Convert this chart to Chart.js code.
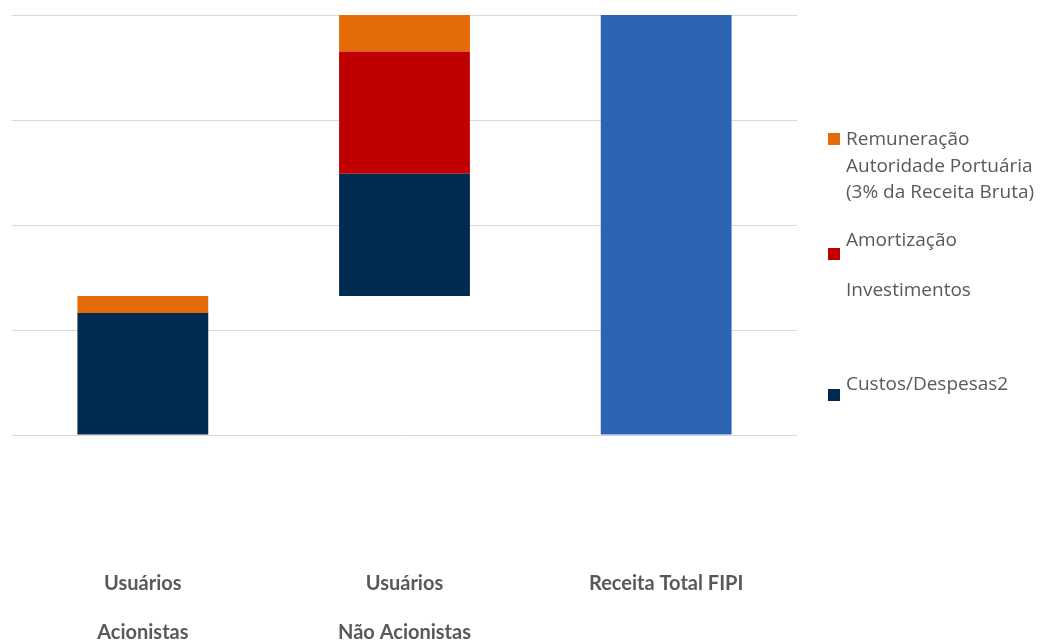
<!DOCTYPE html>
<html>
<head>
<meta charset="utf-8">
<script src="https://cdn.jsdelivr.net/npm/chart.js@4/dist/chart.umd.min.js"></script>
<style>
  html, body { margin: 0; padding: 0; background: #ffffff; overflow: hidden; }
  #wrap { width: 1041px; height: 641px; position: relative; }
</style>
</head>
<body>
<div id="wrap"><canvas id="waterfall" width="1041" height="641"></canvas></div>
<script>
  // categories (multi-line labels)
  var categories = [['Usuários', 'Acionistas'], ['Usuários', 'Não Acionistas'], ['Receita Total FIPI']];

  // series values (% of total revenue)
  var baseOffset = [0, 33.1, 0];          // invisible floating base
  var custos = [29.05, 29.1, 0];
  var amortizacao = [0, 29.1, 0];
  var remuneracao = [4.05, 8.7, 0];
  var receitaTotal = [0, 0, 100];

  // legend entries, top to bottom
  var legendLabels = [
    ['Remuneração', 'Autoridade Portuária', '(3% da Receita Bruta)'],
    ['Amortização'],
    ['Investimentos'],
    ['Custos/Despesas2']
  ];
  var legendColors = ['#e36c09', '#c00000', null, '#002b51'];

  // hand-drawn legend so the wrapped text lines up like the original
  var sideLegend = {
    id: 'sideLegend',
    afterDraw: function (chart) {
      var ctx = chart.ctx;
      var textY = [140, 241, 291, 385];
      var boxY = [133, 248, null, 389];
      ctx.save();
      ctx.font = '19px "Open Sans"';
      ctx.textBaseline = 'middle';
      ctx.textAlign = 'left';
      legendLabels.forEach(function (lines, i) {
        lines.forEach(function (ln, j) {
          ctx.fillStyle = '#595959';
          ctx.fillText(ln, 846, textY[i] + j * 26.5);
        });
        if (legendColors[i]) {
          ctx.fillStyle = legendColors[i];
          ctx.fillRect(828, boxY[i], 12, 12);
        }
      });
      ctx.restore();
    }
  };

  var ctx = document.getElementById('waterfall').getContext('2d');
  var chart = new Chart(ctx, {
    type: 'bar',
    data: {
      labels: categories,
      datasets: [
        { label: 'base', data: baseOffset, backgroundColor: 'rgba(0,0,0,0)' },
        { label: 'Custos/Despesas2', data: custos, backgroundColor: '#002b51' },
        { label: 'Amortização', data: amortizacao, backgroundColor: '#c00000' },
        { label: 'Remuneração Autoridade Portuária (3% da Receita Bruta)', data: remuneracao, backgroundColor: '#e36c09' },
        { label: 'Receita Total FIPI', data: receitaTotal, backgroundColor: '#2c64b4' }
      ]
    },
    options: {
      responsive: false,
      animation: false,
      layout: { padding: { left: 12, right: 244, top: 15, bottom: 0 } },
      datasets: {
        bar: { categoryPercentage: 1, barPercentage: 0.5, borderWidth: 0 }
      },
      plugins: {
        legend: { display: false },
        tooltip: { enabled: false }
      },
      scales: {
        x: {
          stacked: true,
          grid: { display: false, drawTicks: false },
          border: { display: false },
          ticks: {
            color: '#595959',
            font: { family: 'Lato', size: 20, weight: 'bold', lineHeight: 2.45 },
            padding: 124,
            maxRotation: 0,
            autoSkip: false
          },
          afterFit: function (scale) {
            scale.height = 206;
            scale.paddingLeft = 0;
            scale.paddingRight = 0;
          }
        },
        y: {
          stacked: true,
          min: 0,
          max: 100,
          ticks: { display: false, stepSize: 25 },
          grid: { color: '#d9d9d9', lineWidth: 1, drawTicks: false },
          border: { display: false },
          afterFit: function (scale) { scale.width = 0; }
        }
      }
    },
    plugins: [sideLegend]
  });
</script>
</body>
</html>
